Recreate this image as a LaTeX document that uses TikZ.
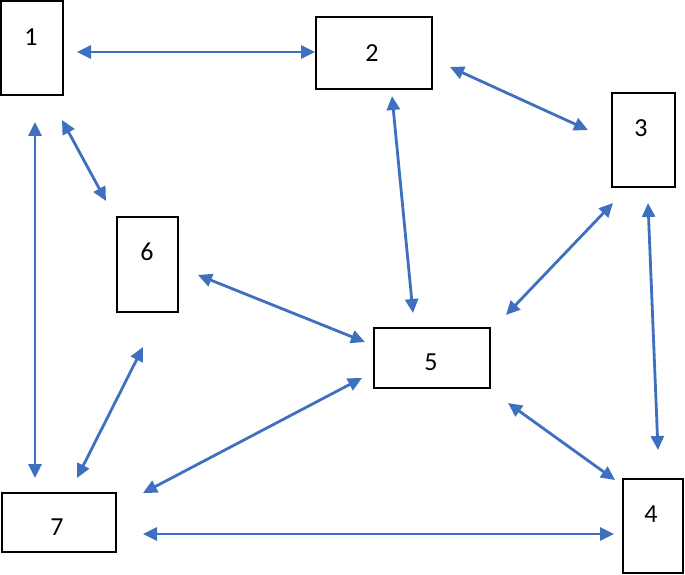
\documentclass[tikz,border=0pt]{standalone}
\usepackage{fontspec}
\setmainfont{Carlito}
\usetikzlibrary{arrows.meta}
\definecolor{arr}{HTML}{3F6FBF}
\begin{document}
\begin{tikzpicture}[x=1pt,y=-1pt,
  box/.style={draw=black,line width=1.8pt,inner sep=0pt,fill=white},
  lbl/.style={font=\fontsize{26}{26}\selectfont,inner sep=0pt},
  link/.style={draw=arr,line width=2.8pt,{Triangle[length=14pt,width=13pt]}-{Triangle[length=14pt,width=13pt]}}]
\useasboundingbox (0,0) rectangle (685,575);
% boxes
\node[box,minimum width=62pt,minimum height=94pt] (b1) at (32,48) {};
\node[box,minimum width=116pt,minimum height=72pt] (b2) at (374,53) {};
\node[box,minimum width=63pt,minimum height=94pt] (b3) at (643.5,140) {};
\node[box,minimum width=61pt,minimum height=95pt] (b6) at (147.5,264.5) {};
\node[box,minimum width=116pt,minimum height=60pt] (b5) at (432,358) {};
\node[box,minimum width=114pt,minimum height=59pt] (b7) at (59,522.5) {};
\node[box,minimum width=60pt,minimum height=94pt] (b4) at (653,526) {};
% labels
\node[lbl] (t1) at (31,37) {1};
\node[lbl] (t2) at (372,53) {2};
\node[lbl] (t3) at (641,128) {3};
\node[lbl] (t6) at (147,252) {6};
\node[lbl] (t5) at (431,362) {5};
\node[lbl] (t7) at (57,527) {7};
\node[lbl] (t4) at (651,514) {4};
% connector ends
\coordinate (e12a) at (77,52);   \coordinate (e12b) at (315,52);
\coordinate (e23a) at (450,67);  \coordinate (e23b) at (588,130);
\coordinate (e25a) at (392,96);  \coordinate (e25b) at (413,313);
\coordinate (e35a) at (613,203); \coordinate (e35b) at (506,315);
\coordinate (e34a) at (648,203); \coordinate (e34b) at (658,450);
\coordinate (e17a) at (35,122);  \coordinate (e17b) at (35,478);
\coordinate (e16a) at (62,120);  \coordinate (e16b) at (106,201);
\coordinate (e65a) at (198,275); \coordinate (e65b) at (365,342);
\coordinate (e67a) at (143,347); \coordinate (e67b) at (77,478);
\coordinate (e57a) at (362,378); \coordinate (e57b) at (143,493);
\coordinate (e54a) at (508,403); \coordinate (e54b) at (615,480);
\coordinate (e74a) at (143,534); \coordinate (e74b) at (614,534);
% connectors
\draw[link] (e12a) -- (e12b);
\draw[link] (e23a) -- (e23b);
\draw[link] (e25a) -- (e25b);
\draw[link] (e35a) -- (e35b);
\draw[link] (e34a) -- (e34b);
\draw[link] (e17a) -- (e17b);
\draw[link] (e16a) -- (e16b);
\draw[link] (e65a) -- (e65b);
\draw[link] (e67a) -- (e67b);
\draw[link] (e57a) -- (e57b);
\draw[link] (e54a) -- (e54b);
\draw[link] (e74a) -- (e74b);
\end{tikzpicture}
\end{document}
